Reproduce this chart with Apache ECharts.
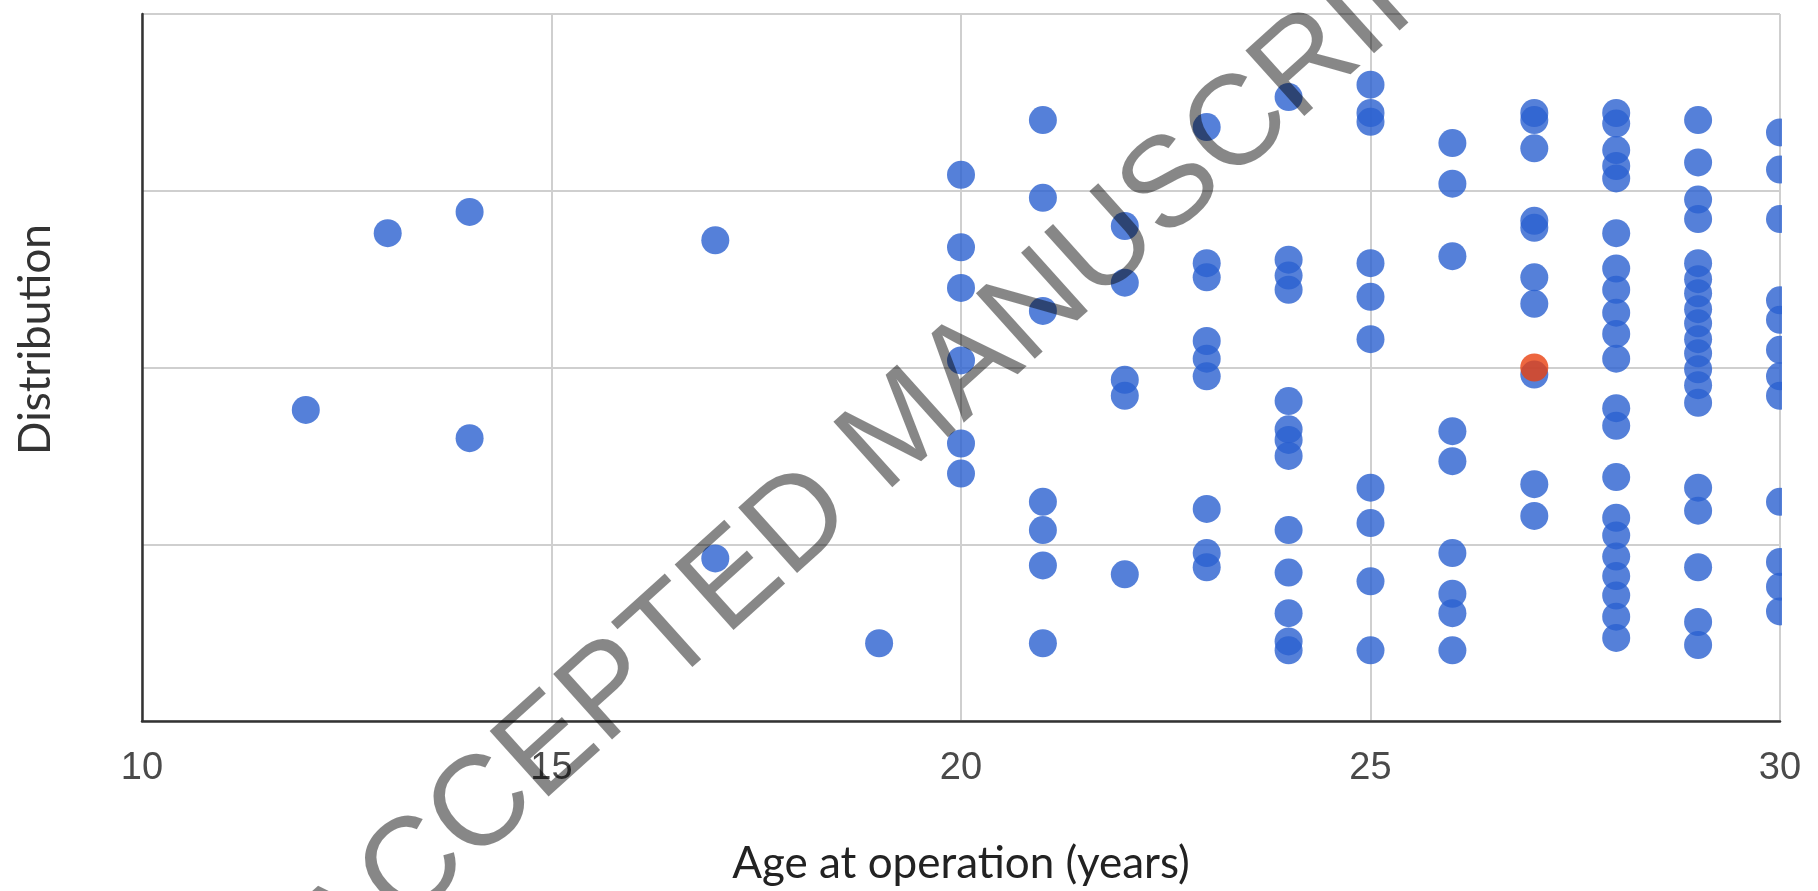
<!DOCTYPE html>
<html>
<head>
<meta charset="utf-8">
<title>Age at operation</title>
<script src="https://cdn.jsdelivr.net/npm/echarts@6/dist/echarts.min.js"></script>
<style>
  html, body { margin: 0; padding: 0; background: #fff; }
  #chart { width: 1818px; height: 891px; }
</style>
</head>
<body>
<div id="chart"></div>
<script>
// one column of dots per age
var ages = [12, 13, 14, 17, 19, 20, 21, 22, 23, 24, 25, 26, 27, 28, 29, 30];
// vertical spread of the dots in each column (same order as ages)
var distribution = [
  [1.76],
  [2.76],
  [2.88, 1.60],
  [2.72, 0.92],
  [0.44],
  [3.09, 2.68, 2.45, 2.04, 1.57, 1.40],
  [3.40, 2.96, 2.32, 1.24, 1.08, 0.88, 0.44],
  [2.80, 2.48, 1.93, 1.84, 0.83],
  [3.36, 2.59, 2.51, 2.15, 2.05, 1.95, 1.20, 0.95, 0.87],
  [3.53, 2.61, 2.52, 2.44, 1.81, 1.65, 1.59, 1.50, 1.08, 0.84, 0.61, 0.45, 0.40],
  [3.60, 3.44, 3.39, 2.59, 2.40, 2.16, 1.32, 1.12, 0.79, 0.40],
  [3.27, 3.04, 2.63, 1.64, 1.47, 0.95, 0.72, 0.61, 0.40],
  [3.44, 3.40, 3.24, 2.83, 2.79, 2.51, 2.36, 1.96, 1.34, 1.16],
  [3.44, 3.38, 3.23, 3.14, 3.07, 2.76, 2.56, 2.44, 2.31, 2.19, 2.05, 1.77, 1.67, 1.38, 1.15, 1.05, 0.93, 0.82, 0.71, 0.59, 0.47],
  [3.40, 3.16, 2.95, 2.84, 2.59, 2.50, 2.42, 2.33, 2.25, 2.16, 2.08, 1.99, 1.90, 1.80, 1.32, 1.19, 0.87, 0.56, 0.43],
  [3.33, 3.12, 2.84, 2.38, 2.27, 2.10, 1.95, 1.84, 1.24, 0.90, 0.76, 0.62]
];
// the single red point
var highlightAge = 27;
var highlightValue = 2.0;

var points = [];
ages.forEach(function(age, i) {
  distribution[i].forEach(function(v) {
    points.push([age, v]);
  });
});

var myChart = echarts.init(document.getElementById("chart"));
myChart.setOption({
  animation: false,
  backgroundColor: "#fff",
  grid: {
    left: 142,
    right: 38,
    top: 14,
    bottom: 170
  },
  xAxis: {
    type: "value",
    min: 10,
    max: 30,
    interval: 5,
    name: "Age at operation (years)",
    nameLocation: "middle",
    nameGap: 121,
    nameTextStyle: {
      fontFamily: "Lato",
      fontSize: 44,
      color: "#222"
    },
    axisLine: {
      onZero: false,
      lineStyle: { color: "#333", width: 2.5 }
    },
    axisTick: { show: false },
    axisLabel: {
      fontFamily: "Liberation Sans",
      fontSize: 38,
      color: "#4a4a4a",
      margin: 29
    },
    splitLine: {
      show: true,
      lineStyle: { color: "#cfcfcf", width: 2 }
    }
  },
  yAxis: {
    type: "value",
    min: 0,
    max: 4,
    interval: 1,
    name: "Distribution",
    nameLocation: "middle",
    nameGap: 84,
    nameRotate: 90,
    nameTextStyle: {
      fontFamily: "Lato",
      fontSize: 44,
      color: "#333",
      padding: [0, 0, 0, 56]
    },
    axisLine: {
      show: true,
      lineStyle: { color: "#333", width: 2.5 }
    },
    axisTick: { show: false },
    axisLabel: { show: false },
    splitLine: {
      show: true,
      lineStyle: { color: "#cfcfcf", width: 2 }
    }
  },
  series: [
    {
      name: "Patients",
      type: "scatter",
      symbol: "circle",
      symbolSize: 28,
      itemStyle: { color: "#2a60d0" },
      data: points
    },
    {
      name: "Highlight",
      type: "scatter",
      symbol: "circle",
      symbolSize: 28,
      itemStyle: { color: "#e8400f" },
      data: [[highlightAge, highlightValue]]
    }
  ],
  graphic: [
    {
      // the plot area cuts off the dots sitting on its right edge
      type: "rect",
      right: 0,
      top: 0,
      z: 50,
      shape: { width: 36, height: 700 },
      style: { fill: "#fff" }
    },
    {
      type: "text",
      x: 903,
      y: 430,
      rotation: 42 * Math.PI / 180,
      z: 100,
      style: {
        text: "ACCEPTED MANUSCRIPT",
        fontFamily: "Liberation Sans",
        fontSize: 128,
        fill: "rgba(0,0,0,0.47)",
        align: "center",
        verticalAlign: "middle"
      }
    }
  ]
});
</script>
</body>
</html>
